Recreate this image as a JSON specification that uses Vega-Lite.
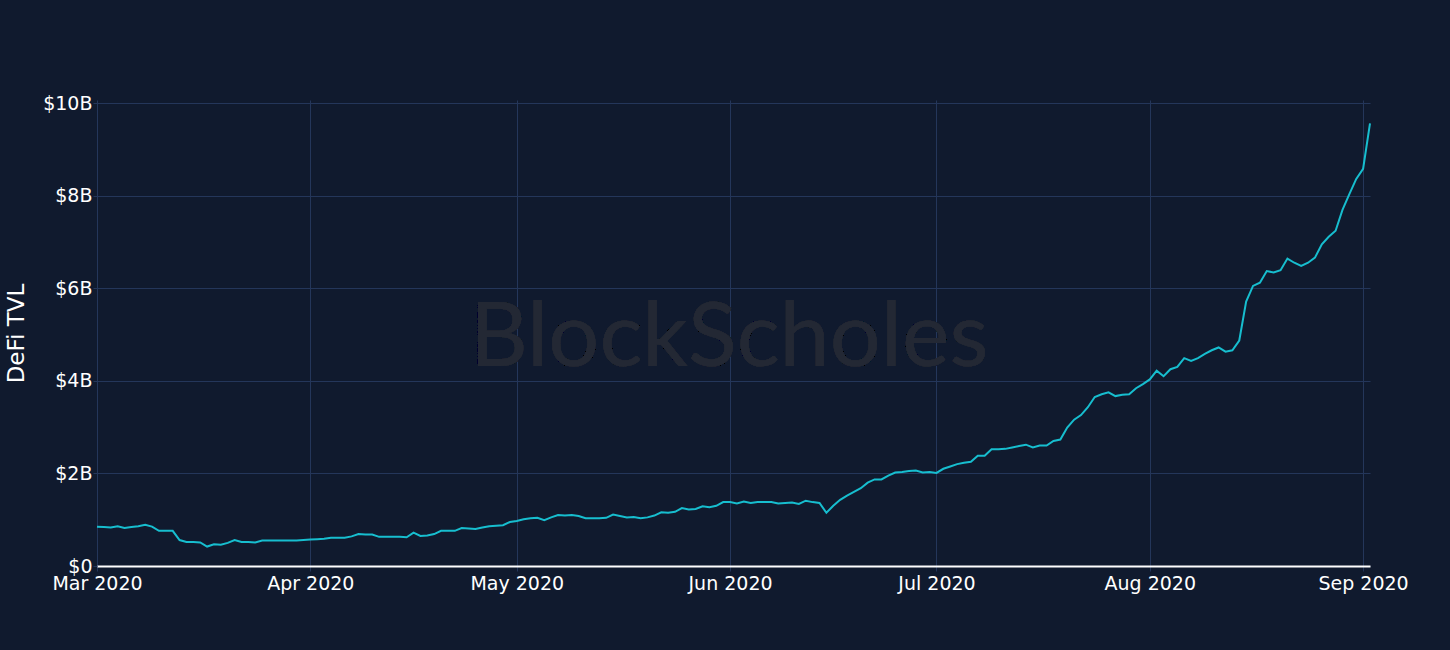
{
  "$schema": "https://vega.github.io/schema/vega-lite/v6.json",
  "width": 1273,
  "height": 466,
  "autosize": {"type": "none"},
  "padding": {"left": 97, "top": 100, "right": 80, "bottom": 84},
  "background": "#101a2e",
  "config": {
    "view": {"stroke": null},
    "font": "DejaVu Sans"
  },
  "data": {
    "values": [
      {"date": "2020-03-01", "tvl": 0.85}, {"date": "2020-03-02", "tvl": 0.84}, {"date": "2020-03-03", "tvl": 0.83},
      {"date": "2020-03-04", "tvl": 0.86}, {"date": "2020-03-05", "tvl": 0.82}, {"date": "2020-03-06", "tvl": 0.84},
      {"date": "2020-03-07", "tvl": 0.86}, {"date": "2020-03-08", "tvl": 0.89}, {"date": "2020-03-09", "tvl": 0.85},
      {"date": "2020-03-10", "tvl": 0.76}, {"date": "2020-03-11", "tvl": 0.76}, {"date": "2020-03-12", "tvl": 0.76},
      {"date": "2020-03-13", "tvl": 0.56}, {"date": "2020-03-14", "tvl": 0.52}, {"date": "2020-03-15", "tvl": 0.52},
      {"date": "2020-03-16", "tvl": 0.51}, {"date": "2020-03-17", "tvl": 0.42}, {"date": "2020-03-18", "tvl": 0.47},
      {"date": "2020-03-19", "tvl": 0.46}, {"date": "2020-03-20", "tvl": 0.5}, {"date": "2020-03-21", "tvl": 0.56},
      {"date": "2020-03-22", "tvl": 0.52}, {"date": "2020-03-23", "tvl": 0.52}, {"date": "2020-03-24", "tvl": 0.51},
      {"date": "2020-03-25", "tvl": 0.55}, {"date": "2020-03-26", "tvl": 0.55}, {"date": "2020-03-27", "tvl": 0.55},
      {"date": "2020-03-28", "tvl": 0.55}, {"date": "2020-03-29", "tvl": 0.55}, {"date": "2020-03-30", "tvl": 0.55},
      {"date": "2020-03-31", "tvl": 0.56}, {"date": "2020-04-01", "tvl": 0.57}, {"date": "2020-04-02", "tvl": 0.58},
      {"date": "2020-04-03", "tvl": 0.59}, {"date": "2020-04-04", "tvl": 0.61}, {"date": "2020-04-05", "tvl": 0.61},
      {"date": "2020-04-06", "tvl": 0.61}, {"date": "2020-04-07", "tvl": 0.64}, {"date": "2020-04-08", "tvl": 0.69},
      {"date": "2020-04-09", "tvl": 0.68}, {"date": "2020-04-10", "tvl": 0.68}, {"date": "2020-04-11", "tvl": 0.63},
      {"date": "2020-04-12", "tvl": 0.63}, {"date": "2020-04-13", "tvl": 0.63}, {"date": "2020-04-14", "tvl": 0.63},
      {"date": "2020-04-15", "tvl": 0.62}, {"date": "2020-04-16", "tvl": 0.72}, {"date": "2020-04-17", "tvl": 0.65},
      {"date": "2020-04-18", "tvl": 0.66}, {"date": "2020-04-19", "tvl": 0.69}, {"date": "2020-04-20", "tvl": 0.76},
      {"date": "2020-04-21", "tvl": 0.76}, {"date": "2020-04-22", "tvl": 0.76}, {"date": "2020-04-23", "tvl": 0.82},
      {"date": "2020-04-24", "tvl": 0.81}, {"date": "2020-04-25", "tvl": 0.8}, {"date": "2020-04-26", "tvl": 0.83},
      {"date": "2020-04-27", "tvl": 0.86}, {"date": "2020-04-28", "tvl": 0.87}, {"date": "2020-04-29", "tvl": 0.88},
      {"date": "2020-04-30", "tvl": 0.95}, {"date": "2020-05-01", "tvl": 0.97}, {"date": "2020-05-02", "tvl": 1.01},
      {"date": "2020-05-03", "tvl": 1.03}, {"date": "2020-05-04", "tvl": 1.04}, {"date": "2020-05-05", "tvl": 0.99},
      {"date": "2020-05-06", "tvl": 1.05}, {"date": "2020-05-07", "tvl": 1.1}, {"date": "2020-05-08", "tvl": 1.09},
      {"date": "2020-05-09", "tvl": 1.1}, {"date": "2020-05-10", "tvl": 1.08}, {"date": "2020-05-11", "tvl": 1.03},
      {"date": "2020-05-12", "tvl": 1.03}, {"date": "2020-05-13", "tvl": 1.03}, {"date": "2020-05-14", "tvl": 1.04},
      {"date": "2020-05-15", "tvl": 1.11}, {"date": "2020-05-16", "tvl": 1.08}, {"date": "2020-05-17", "tvl": 1.05},
      {"date": "2020-05-18", "tvl": 1.06}, {"date": "2020-05-19", "tvl": 1.03}, {"date": "2020-05-20", "tvl": 1.05},
      {"date": "2020-05-21", "tvl": 1.09}, {"date": "2020-05-22", "tvl": 1.16}, {"date": "2020-05-23", "tvl": 1.15},
      {"date": "2020-05-24", "tvl": 1.17}, {"date": "2020-05-25", "tvl": 1.25}, {"date": "2020-05-26", "tvl": 1.22},
      {"date": "2020-05-27", "tvl": 1.23}, {"date": "2020-05-28", "tvl": 1.29}, {"date": "2020-05-29", "tvl": 1.27},
      {"date": "2020-05-30", "tvl": 1.3}, {"date": "2020-05-31", "tvl": 1.38}, {"date": "2020-06-01", "tvl": 1.38},
      {"date": "2020-06-02", "tvl": 1.35}, {"date": "2020-06-03", "tvl": 1.39}, {"date": "2020-06-04", "tvl": 1.36},
      {"date": "2020-06-05", "tvl": 1.38}, {"date": "2020-06-06", "tvl": 1.38}, {"date": "2020-06-07", "tvl": 1.38},
      {"date": "2020-06-08", "tvl": 1.35}, {"date": "2020-06-09", "tvl": 1.36}, {"date": "2020-06-10", "tvl": 1.37},
      {"date": "2020-06-11", "tvl": 1.34}, {"date": "2020-06-12", "tvl": 1.41}, {"date": "2020-06-13", "tvl": 1.38},
      {"date": "2020-06-14", "tvl": 1.36}, {"date": "2020-06-15", "tvl": 1.15}, {"date": "2020-06-16", "tvl": 1.3},
      {"date": "2020-06-17", "tvl": 1.43}, {"date": "2020-06-18", "tvl": 1.52}, {"date": "2020-06-19", "tvl": 1.6},
      {"date": "2020-06-20", "tvl": 1.68}, {"date": "2020-06-21", "tvl": 1.8}, {"date": "2020-06-22", "tvl": 1.87},
      {"date": "2020-06-23", "tvl": 1.87}, {"date": "2020-06-24", "tvl": 1.95}, {"date": "2020-06-25", "tvl": 2.02},
      {"date": "2020-06-26", "tvl": 2.03}, {"date": "2020-06-27", "tvl": 2.05}, {"date": "2020-06-28", "tvl": 2.06},
      {"date": "2020-06-29", "tvl": 2.02}, {"date": "2020-06-30", "tvl": 2.03}, {"date": "2020-07-01", "tvl": 2.01},
      {"date": "2020-07-02", "tvl": 2.1}, {"date": "2020-07-03", "tvl": 2.15}, {"date": "2020-07-04", "tvl": 2.2},
      {"date": "2020-07-05", "tvl": 2.23}, {"date": "2020-07-06", "tvl": 2.25}, {"date": "2020-07-07", "tvl": 2.38},
      {"date": "2020-07-08", "tvl": 2.38}, {"date": "2020-07-09", "tvl": 2.52}, {"date": "2020-07-10", "tvl": 2.52},
      {"date": "2020-07-11", "tvl": 2.53}, {"date": "2020-07-12", "tvl": 2.56}, {"date": "2020-07-13", "tvl": 2.59},
      {"date": "2020-07-14", "tvl": 2.62}, {"date": "2020-07-15", "tvl": 2.56}, {"date": "2020-07-16", "tvl": 2.6},
      {"date": "2020-07-17", "tvl": 2.6}, {"date": "2020-07-18", "tvl": 2.7}, {"date": "2020-07-19", "tvl": 2.73},
      {"date": "2020-07-20", "tvl": 2.99}, {"date": "2020-07-21", "tvl": 3.16}, {"date": "2020-07-22", "tvl": 3.26},
      {"date": "2020-07-23", "tvl": 3.43}, {"date": "2020-07-24", "tvl": 3.65}, {"date": "2020-07-25", "tvl": 3.71},
      {"date": "2020-07-26", "tvl": 3.75}, {"date": "2020-07-27", "tvl": 3.67}, {"date": "2020-07-28", "tvl": 3.7},
      {"date": "2020-07-29", "tvl": 3.71}, {"date": "2020-07-30", "tvl": 3.84}, {"date": "2020-07-31", "tvl": 3.93},
      {"date": "2020-08-01", "tvl": 4.03}, {"date": "2020-08-02", "tvl": 4.22}, {"date": "2020-08-03", "tvl": 4.1},
      {"date": "2020-08-04", "tvl": 4.25}, {"date": "2020-08-05", "tvl": 4.3}, {"date": "2020-08-06", "tvl": 4.49},
      {"date": "2020-08-07", "tvl": 4.43}, {"date": "2020-08-08", "tvl": 4.49}, {"date": "2020-08-09", "tvl": 4.58},
      {"date": "2020-08-10", "tvl": 4.66}, {"date": "2020-08-11", "tvl": 4.72}, {"date": "2020-08-12", "tvl": 4.63},
      {"date": "2020-08-13", "tvl": 4.66}, {"date": "2020-08-14", "tvl": 4.87}, {"date": "2020-08-15", "tvl": 5.71},
      {"date": "2020-08-16", "tvl": 6.05}, {"date": "2020-08-17", "tvl": 6.12}, {"date": "2020-08-18", "tvl": 6.37},
      {"date": "2020-08-19", "tvl": 6.34}, {"date": "2020-08-20", "tvl": 6.39}, {"date": "2020-08-21", "tvl": 6.64},
      {"date": "2020-08-22", "tvl": 6.55}, {"date": "2020-08-23", "tvl": 6.48}, {"date": "2020-08-24", "tvl": 6.55},
      {"date": "2020-08-25", "tvl": 6.66}, {"date": "2020-08-26", "tvl": 6.95}, {"date": "2020-08-27", "tvl": 7.11},
      {"date": "2020-08-28", "tvl": 7.24}, {"date": "2020-08-29", "tvl": 7.69}, {"date": "2020-08-30", "tvl": 8.03},
      {"date": "2020-08-31", "tvl": 8.36}, {"date": "2020-09-01", "tvl": 8.58}, {"date": "2020-09-02", "tvl": 9.56}
    ]
  },
  "layer": [
    {
      "mark": {"type": "text", "text": "BlockScholes", "font": "Lato", "fontSize": 90, "fontWeight": 400, "color": "#232834", "align": "center", "baseline": "alphabetic"},
      "encoding": {
        "x": {"datum": {"year": 2020, "month": 5, "date": 31, "hours": 21}, "type": "temporal"},
        "y": {"datum": 4.32, "type": "quantitative"}
      }
    },
    {
      "mark": {"type": "line", "color": "#17becf", "strokeWidth": 2, "interpolate": "linear"},
      "encoding": {
        "x": {
          "field": "date",
          "type": "temporal",
          "scale": {"domain": [{"year": 2020, "month": 3, "date": 1}, {"year": 2020, "month": 9, "date": 2}], "nice": false},
          "axis": {
            "title": null,
            "format": "%b %Y",
            "tickCount": {"interval": "month", "step": 1},
            "labelFontSize": 19,
            "labelColor": "#ffffff",
            "labelFont": "DejaVu Sans",
            "labelPadding": 3,
            "labelFlush": false,
            "labelOverlap": false,
            "domainColor": "#ffffff",
            "domainWidth": 2,
            "tickColor": "#24365a",
            "tickSize": 5,
            "grid": true,
            "gridColor": "#24365a",
            "gridWidth": 1
          }
        },
        "y": {
          "field": "tvl",
          "type": "quantitative",
          "scale": {"domain": [0, 10.065], "nice": false, "zero": true},
          "axis": {
            "title": "DeFi TVL",
            "titleFontSize": 23,
            "titleFontWeight": "normal",
            "titleColor": "#ffffff",
            "titleFont": "DejaVu Sans",
            "titlePadding": 14,
            "values": [0, 2, 4, 6, 8, 10],
            "labelExpr": "datum.value == 0 ? '$0' : '$' + datum.value + 'B'",
            "labelFontSize": 19,
            "labelColor": "#ffffff",
            "labelFont": "DejaVu Sans",
            "labelPadding": 1,
            "domain": false,
            "tickColor": "#24365a",
            "tickSize": 4,
            "grid": true,
            "gridColor": "#24365a",
            "gridWidth": 1
          }
        }
      }
    }
  ]
}
